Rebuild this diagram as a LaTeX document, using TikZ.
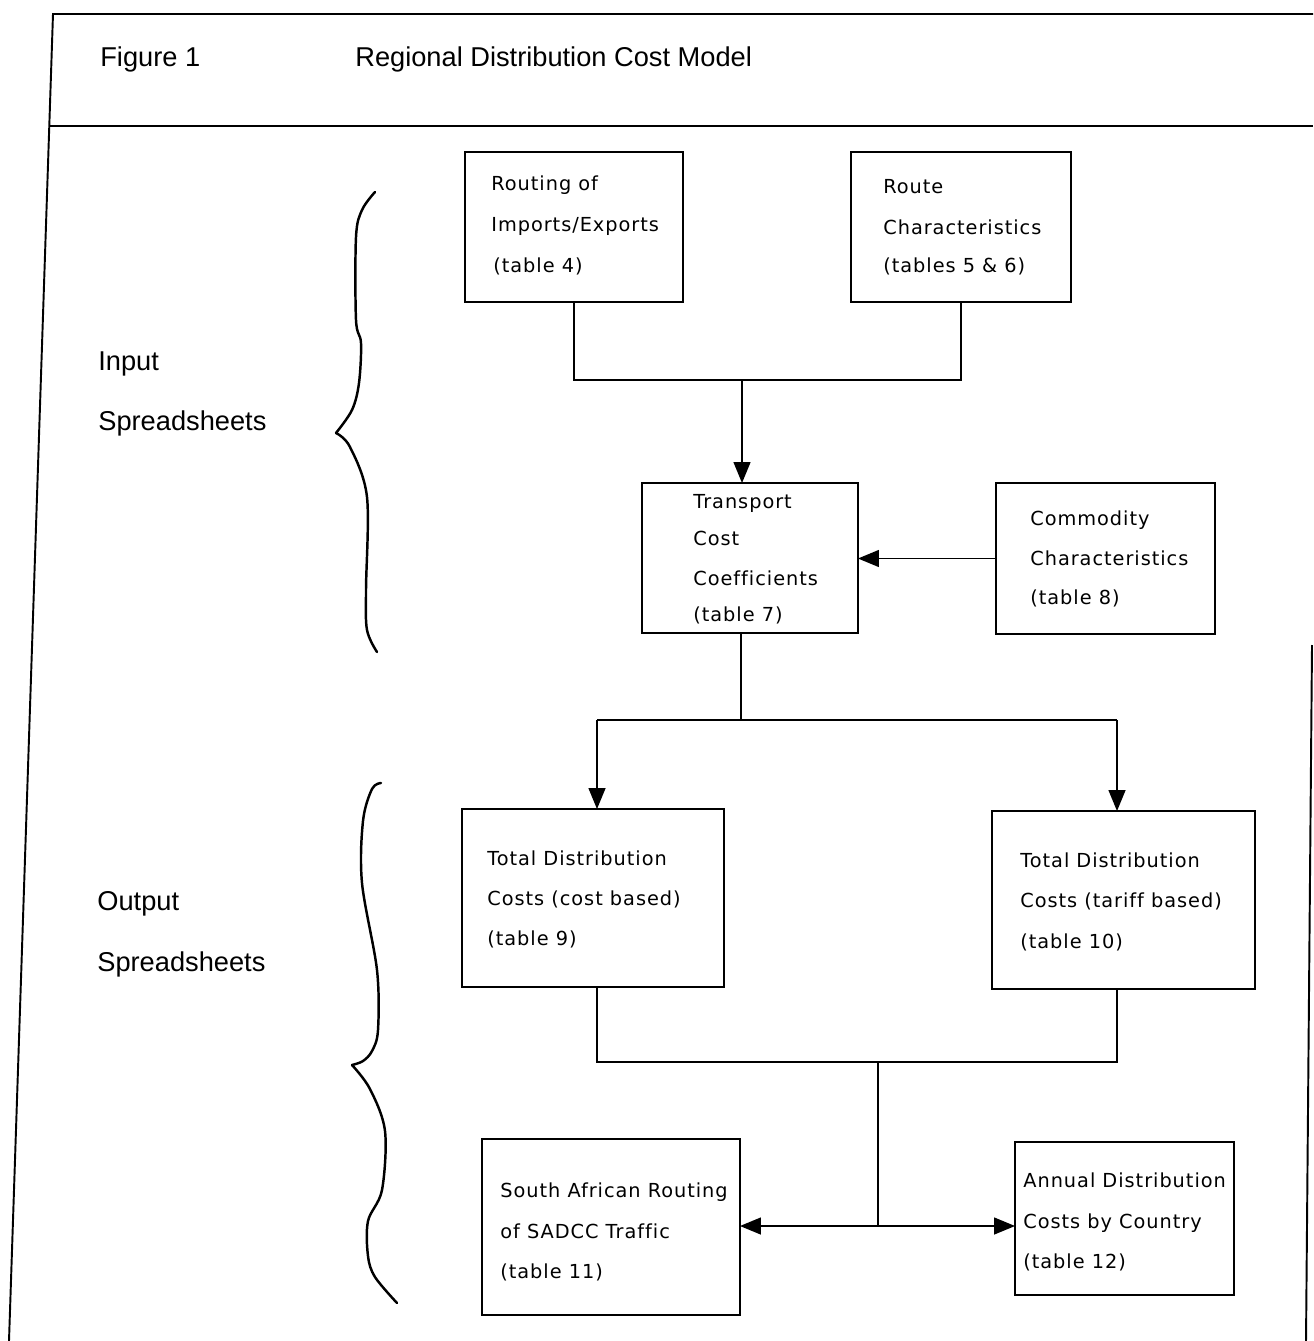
\documentclass[tikz,border=0pt]{standalone}
\usepackage{fontspec}
\setmainfont{Liberation Sans}
\newfontfamily\plotfont[LetterSpace=5,Ligatures=NoCommon]{DejaVu Sans}
\usetikzlibrary{arrows.meta,calc}
\begin{document}
\begin{tikzpicture}[x=0.02cm,y=-0.02cm,
  frame/.style={line width=1.1pt},
  box/.style={draw, line width=1pt, rectangle, inner sep=0pt, outer sep=0pt},
  conn/.style={line width=0.8pt},
  arr/.style={line width=0.8pt, -{Triangle[length=0.42cm,width=0.34cm]}},
  brace/.style={line width=1.4pt, line cap=round, line join=round},
  tx/.style={font=\plotfont\fontsize{11}{13}\selectfont, anchor=base west, inner sep=0pt},
  hd/.style={font=\fontsize{15.5}{18}\selectfont, anchor=base west, inner sep=0pt}]
\useasboundingbox (0,0) rectangle (1313,1341);
\fill[white] (0,0) rectangle (1313,1341);

% frame
\draw[frame] (1313,14) -- (53,14) -- (9,1341);
\draw[frame] (50,126) -- (1313,126);
\draw[frame] (1312,645) -- (1306,1341);

% header
\node[hd] (fig) at (100,67) {Figure 1};
\node[hd] (title) at (355,67) {Regional Distribution Cost Model};

% side labels
\node[hd] (in1) at (98,370) {Input};
\node[hd] (in2) at (98,430) {Spreadsheets};
\node[hd] (out1) at (97,910) {Output};
\node[hd] (out2) at (97,971) {Spreadsheets};

% braces
\draw[brace] plot[smooth, tension=0.55] coordinates {(375,192) (362,210) (356,237) (356,320) (361,343) (359,383) (352,410) (336,433)};
\draw[brace] plot[smooth, tension=0.55] coordinates {(336,433) (350,447) (367,497) (366,590) (367,630) (377,652)};
\draw[brace] plot[smooth, tension=0.55] coordinates {(381,783) (372,789) (363,821) (362,883) (377,970) (378,1030) (372,1051) (363,1061) (352,1065)};
\draw[brace] plot[smooth, tension=0.55] coordinates {(352,1065) (370,1089) (385,1131) (382,1190) (368,1221) (368,1256) (375,1277) (397,1303)};

% boxes
\node[box, minimum width=4.36cm, minimum height=3.0cm] (routing) at (574,227) {};
\node[box, minimum width=4.4cm, minimum height=3.0cm] (route) at (961,227) {};
\node[box, minimum width=4.32cm, minimum height=3.0cm] (transport) at (750,558) {};
\node[box, minimum width=4.38cm, minimum height=3.02cm] (commodity) at (1105.5,558.5) {};
\node[box, minimum width=5.24cm, minimum height=3.56cm] (costb) at (593,898) {};
\node[box, minimum width=5.26cm, minimum height=3.56cm] (tariff) at (1123.5,900) {};
\node[box, minimum width=5.16cm, minimum height=3.52cm] (sar) at (611,1227) {};
\node[box, minimum width=4.38cm, minimum height=3.06cm] (annual) at (1124.5,1218.5) {};

% box texts
\node[tx] (routing1) at (491,191) {Routing of};
\node[tx] (routing2) at (491,232) {Imports/Exports};
\node[tx] (routing3) at (493,273) {(table 4)};

\node[tx] (route1) at (883,194) {Route};
\node[tx] (route2) at (883,235) {Characteristics};
\node[tx] (route3) at (883,273) {(tables 5 \& 6)};

\node[tx] (transport1) at (693,508) {Transport};
\node[tx] (transport2) at (693,545) {Cost};
\node[tx] (transport3) at (693,585) {Coefficients};
\node[tx] (transport4) at (693,621) {(table 7)};

\node[tx] (commodity1) at (1030,525) {Commodity};
\node[tx] (commodity2) at (1030,565) {Characteristics};
\node[tx] (commodity3) at (1030,604) {(table 8)};

\node[tx] (costb1) at (487,865) {Total Distribution};
\node[tx] (costb2) at (487,905) {Costs (cost based)};
\node[tx] (costb3) at (487,945) {(table 9)};

\node[tx] (tariff1) at (1020,867) {Total Distribution};
\node[tx] (tariff2) at (1020,907) {Costs (tariff based)};
\node[tx] (tariff3) at (1020,948) {(table 10)};

\node[tx] (sar1) at (500,1197) {South African Routing};
\node[tx] (sar2) at (500,1238) {of SADCC Traffic};
\node[tx] (sar3) at (500,1278) {(table 11)};

\node[tx] (annual1) at (1023,1187) {Annual Distribution};
\node[tx] (annual2) at (1023,1228) {Costs by Country};
\node[tx] (annual3) at (1023,1268) {(table 12)};

% junctions
\coordinate (j1) at (742,380);
\coordinate (j2) at (741,720);
\coordinate (j2L) at (597,720);
\coordinate (j2R) at (1117,720);
\coordinate (xL) at (597,1062);
\coordinate (xR) at (1117,1062);
\coordinate (j3) at (878,1062);
\coordinate (j4) at (878,1226);

% connectors
\draw[conn] (routing.south) |- (j1) -| (route.south);
\draw[arr] (j1) -- (j1 |- transport.north);
\draw[arr] (commodity.west) -- (commodity.west -| transport.east);
\draw[conn] (transport.south -| j2) -- (j2);
\draw[conn] (j2L) -- (j2R);
\draw[arr] (j2L) -- (j2L |- costb.north);
\draw[arr] (j2R) -- (j2R |- tariff.north);
\draw[conn] (costb.south -| xL) -- (xL) -- (xR) -- (tariff.south -| xR);
\draw[conn] (j3) -- (j4);
\draw[arr] (j4) -- (j4 -| sar.east);
\draw[arr] (j4) -- (j4 -| annual.west);
\end{tikzpicture}
\end{document}
